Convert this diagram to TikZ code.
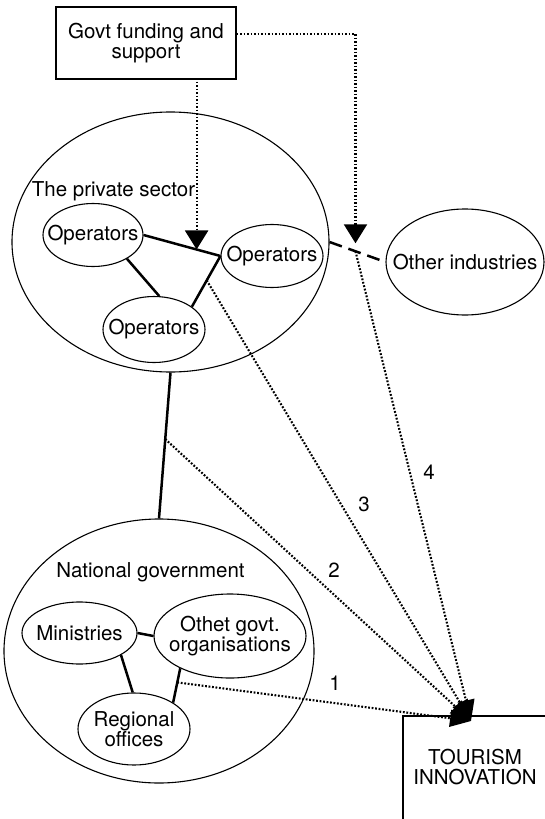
\documentclass[tikz,border=0pt]{standalone}
\usepackage{fontspec}
\setmainfont{TeX Gyre Heros}
\usetikzlibrary{shapes.geometric,arrows.meta}
\begin{document}
\begin{tikzpicture}[x=1pt,y=-1pt,
  every node/.style={font=\fontsize{20.5}{20.5}\selectfont},
  every label/.style={font=\fontsize{20.5}{20.5}\selectfont,align=center},
  oval/.style={draw,ellipse,line width=1.1pt,inner sep=0pt},
  conn/.style={line width=2.5pt},
  dotline/.style={line width=2.1pt,dash pattern=on 1.8pt off 1.7pt},
  bigtip/.style={-{Triangle[width=23pt,length=19pt]}},
  smalltip/.style={-{Triangle[width=17pt,length=21pt]}},
  dashline/.style={line width=2.5pt,dash pattern=on 13pt off 7pt},
]
\useasboundingbox (0,0) rectangle (544,819);

% boxes
\node[draw,line width=1.1pt,minimum width=180pt,minimum height=72pt,align=center,inner sep=0pt] (govt) at (146,43) {Govt funding and\\support};
\node[draw,line width=2pt,anchor=north west,minimum width=200pt,minimum height=150pt] (tour) at (402,715) {};
\node[align=center] (tourtext) at (475,767) {TOURISM\\INNOVATION};

% private sector
\node[oval,minimum width=317pt,minimum height=260pt] (ps) at (170.5,242) {};
\node (pslabel) at (113.5,191) {The private sector};
\node[oval,minimum width=100pt,minimum height=63pt,label={center:Operators}] (op1) at (93,235) {};
\node[oval,minimum width=102pt,minimum height=63pt,label={center:Operators}] (op2) at (272,256) {};
\node[oval,minimum width=102pt,minimum height=66pt,label={center:Operators}] (op3) at (154,329.5) {};
\node[oval,minimum width=158pt,minimum height=106pt,label={center:Other industries}] (oi) at (465,262) {};

% national government
\node[oval,minimum width=310pt,minimum height=264pt] (ng) at (159,651) {};
\node (nglabel) at (150.5,572) {National government};
\node[oval,minimum width=115pt,minimum height=62pt,label={center:Ministries}] (min) at (79.5,633) {};
\node[oval,minimum width=152pt,minimum height=84pt,label={center:Othet govt.\\organisations}] (oth) at (230,636) {};
\node[oval,minimum width=112pt,minimum height=72pt,label={center:Regional\\offices}] (reg) at (134,729) {};

% solid links
\draw[conn] (op1.east) -- (op2.west) coordinate[pos=0.69] (t1);
\draw[conn] (op1.-35) -- (op3.81);
\draw[conn] (op3.31) -- (op2.west) coordinate[pos=0.52] (t3);
\draw[conn] (ps.south) -- (ng.north) coordinate[pos=0.456] (t4);
\draw[conn] (min.east) -- (oth.west);
\draw[conn] (min.-28) -- (reg.92);
\draw[conn] (oth.-147) -- (reg.34) coordinate[pos=0.41] (t5);
\draw[dashline] (ps.east) -- (oi.west) coordinate[pos=0.464] (t2);

% target point
\coordinate (T) at (471,721);

% government funding arrows
\draw[dotline,bigtip,shorten <=2pt] (govt.south -| t1) -- (t1);
\draw[dotline,bigtip,shorten >=8pt] ([yshift=9pt]govt.east) -| (t2);

% innovation arrows
\draw[dotline,smalltip] (t5) -- (T);
\draw[dotline,smalltip] (t4) -- (T);
\draw[dotline,smalltip] (t3) -- (T);
\draw[dotline,smalltip] (t2) -- (T);

% numbers
\node (n1) at (335,683) {1};
\node (n2) at (334,570) {2};
\node (n3) at (364,504) {3};
\node (n4) at (429,472) {4};
\end{tikzpicture}
\end{document}
